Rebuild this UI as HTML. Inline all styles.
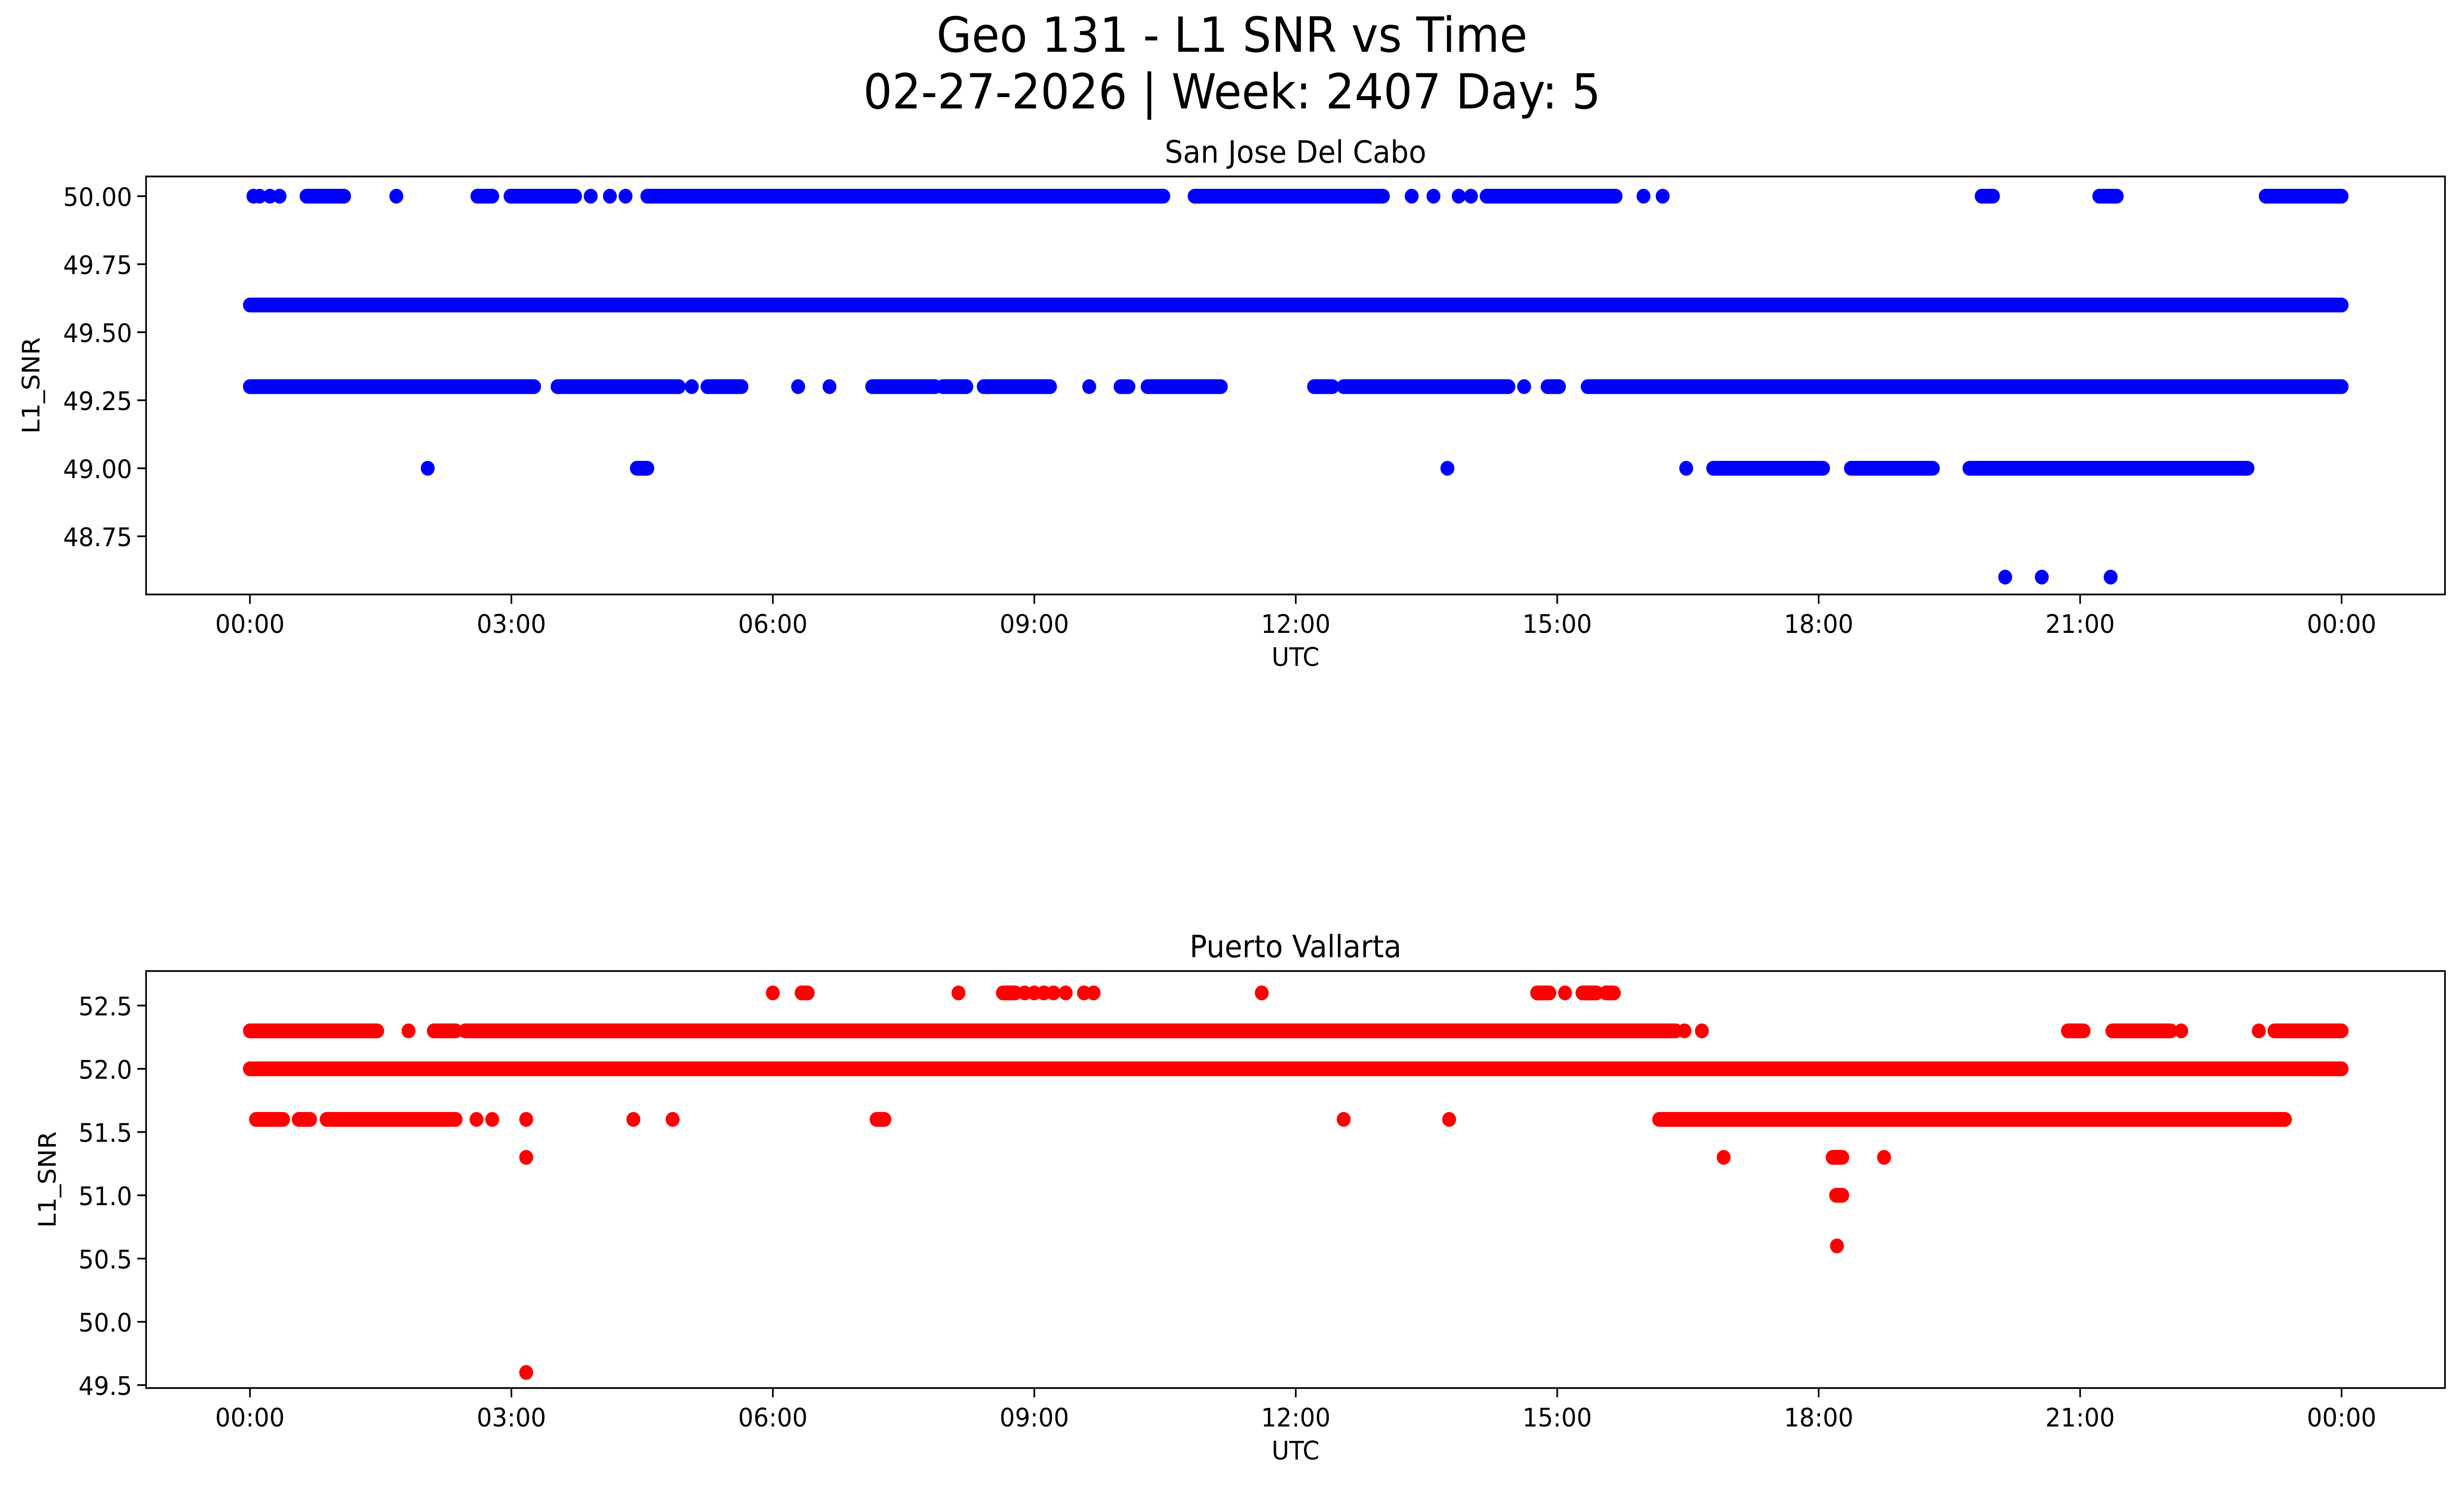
<!DOCTYPE html>
<html><head><meta charset="utf-8"><style>
html,body{margin:0;padding:0;background:#fff;overflow:hidden;width:100%;height:100%;}
svg{display:block;width:100vw;height:100vh;font-family:"DejaVu Sans","Liberation Sans",sans-serif;}
</style></head><body>
<svg id="chart" xmlns="http://www.w3.org/2000/svg" viewBox="0 0 5314 3033" preserveAspectRatio="none">
<rect width="5314" height="3033" fill="#fff"/>
<text x="2657" y="105" font-size="98" text-anchor="middle">Geo 131 - L1 SNR vs Time</text>
<text x="2657" y="220" font-size="98" text-anchor="middle">02-27-2026 | Week: 2407 Day: 5</text>
<g id="top"></g>
<g id="bot"></g>
</svg>
<script>
// x-axis ticks (hours)
const xTickHours = [0,3,6,9,12,15,18,21,24];
const xTickLabels = ["00:00","03:00","06:00","09:00","12:00","15:00","18:00","21:00","00:00"];
// San Jose Del Cabo: runs [startHour,endHour] and isolated points per SNR level
const sjTicks = [48.75,49.00,49.25,49.50,49.75,50.00];
const sjLevels = [50.0, 49.6, 49.3, 49.0, 48.6];
const sjRuns = [
 [[0.65,1.08],[2.61,2.78],[2.99,3.73],[4.56,10.48],[10.84,13.0],[14.19,15.67],[19.87,20.0],[21.22,21.42],[23.13,24.0]],
 [[0,24]],
 [[0,3.26],[3.53,4.92],[5.25,5.64],[7.14,7.86],[7.95,8.22],[8.42,9.18],[9.99,10.08],[10.30,11.14],[12.21,12.42],[12.55,14.44],[14.89,15.02],[15.35,24]],
 [[4.44,4.56],[16.79,18.05],[18.37,19.31],[19.73,22.92]],
 []
];
const sjPoints = [
 [0.04,0.11,0.23,0.34,1.68,3.91,4.13,4.31,13.33,13.58,13.87,14.01,15.99,16.21],
 [],
 [5.07,6.29,6.65,9.63,14.62],
 [2.04,13.74,16.48],
 [20.14,20.56,21.35]
];
// Puerto Vallarta
const pvTicks = [49.5,50.0,50.5,51.0,51.5,52.0,52.5];
const pvLevels = [52.6, 52.3, 52.0, 51.6, 51.3, 51.0, 50.6, 49.6];
const pvRuns = [
 [[6.33,6.4],[8.64,8.78],[14.77,14.91],[15.29,15.45],[15.56,15.65]],
 [[0,1.46],[2.11,2.36],[2.47,16.36],[20.86,21.04],[21.37,22.04],[23.23,24]],
 [[0,24]],
 [[0.07,0.38],[0.56,0.69],[0.88,2.36],[7.19,7.28],[16.17,23.35]],
 [[18.16,18.27]],
 [[18.2,18.27]],
 [],
 []
];
const pvPoints = [
 [6.0,8.13,8.89,9.0,9.11,9.22,9.36,9.57,9.68,11.61,15.09],
 [1.82,16.46,16.66,22.16,23.05],
 [],
 [2.6,2.78,3.17,4.4,4.85,12.55,13.76],
 [3.17,16.91,18.75],
 [],
 [18.21],
 [3.17]
];

const NS="http://www.w3.org/2000/svg";
const X0=539, X1=5050, AL=315, AR=5273;
const xScale = h => X0 + (X1-X0)*h/24;
function el(tag, attrs, parent){const e=document.createElementNS(NS,tag);for(const k in attrs)e.setAttribute(k,attrs[k]);parent.appendChild(e);return e;}

function panel(g, cfg){
  const yScale = v => cfg.y0px + (v-cfg.v0)*(cfg.y1px-cfg.y0px)/(cfg.v1-cfg.v0);
  const pts = el('g',{},g);
  
  
  cfg.levels.forEach((lv,i)=>{
    const y=yScale(lv);
    cfg.runs[i].forEach(r=>{
      const rr=el('rect',{x:xScale(r[0])-15,y:y-15,width:xScale(r[1])-xScale(r[0])+30,height:30,rx:15,fill:cfg.color},pts);
      
      
    });
    cfg.points[i].forEach(h=>{
      const c=el('circle',{cx:xScale(h),cy:y,r:15,fill:cfg.color},pts);
      
      
    });
  });
  const fr=el('rect',{x:AL,y:cfg.top,width:AR-AL,height:cfg.bottom-cfg.top,fill:'none',stroke:'#000','stroke-width':3.5},g);
  
  
  cfg.ticks.forEach(t=>{
    const y=yScale(t);
    el('line',{x1:AL-19,x2:AL,y1:y,y2:y,stroke:'#000','stroke-width':3.5},g);
    const tx=el('text',{x:AL-30,y:y+20,'font-size':52,'text-anchor':'end'},g);
    tx.textContent=t.toFixed(cfg.dec);
    
    
  });
  xTickHours.forEach((h,i)=>{
    const x=xScale(h);
    el('line',{x1:x,x2:x,y1:cfg.bottom,y2:cfg.bottom+19,stroke:'#000','stroke-width':3.5},g);
    const tx=el('text',{x:x,y:cfg.bottom+78,'font-size':52,'text-anchor':'middle'},g);
    tx.textContent=xTickLabels[i];
    
    
  });
  const xl=el('text',{x:(AL+AR)/2,y:cfg.bottom+145,'font-size':52,'text-anchor':'middle'},g);
  xl.textContent='UTC';
  
  
  const yl=el('text',{x:0,y:0,'font-size':52,'text-anchor':'middle',transform:`translate(${cfg.ylx},${(cfg.top+cfg.bottom)/2}) rotate(-90)`},g);
  yl.textContent='L1_SNR';
  
  
  const tt=el('text',{x:(AL+AR)/2,y:cfg.top-28,'font-size':62,'text-anchor':'middle'},g);
  tt.textContent=cfg.title;
  
  
}
panel(document.getElementById('top'),{prefix:'san-jose',title:'San Jose Del Cabo',color:'#0000ff',top:358,bottom:1206,v0:50.0,v1:49.0,y0px:398,y1px:950,ticks:sjTicks,dec:2,levels:sjLevels,runs:sjRuns,points:sjPoints,ylx:85});
panel(document.getElementById('bot'),{prefix:'puerto-vallarta',title:'Puerto Vallarta',color:'#ff0000',top:1970,bottom:2816,v0:52.5,v1:49.5,y0px:2040,y1px:2810,ticks:pvTicks,dec:1,levels:pvLevels,runs:pvRuns,points:pvPoints,ylx:120});
</script>
</body></html>
